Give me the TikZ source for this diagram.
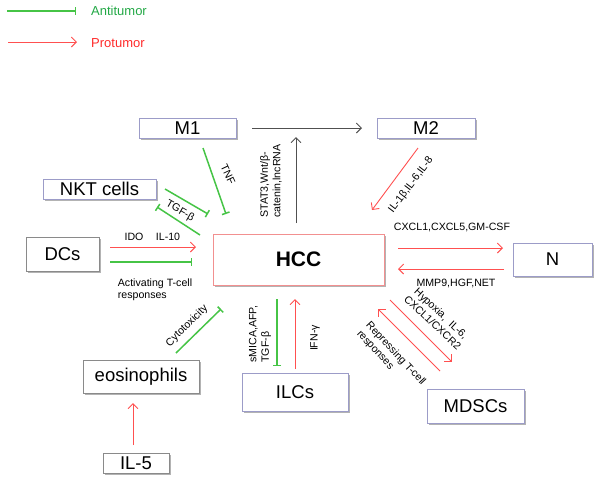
\documentclass[tikz,border=0pt]{standalone}
\usepackage{fontspec}
\setmainfont{Liberation Sans}
\usetikzlibrary{arrows.meta,shadows}
\definecolor{gline}{RGB}{70,196,70}
\definecolor{rline}{HTML}{FF5050}
\definecolor{antig}{HTML}{22A845}
\definecolor{protr}{HTML}{FF2A2A}
\definecolor{boxgray}{HTML}{8A8A8A}
\definecolor{boxlav}{HTML}{9C9CC8}
\definecolor{hccb}{HTML}{F29090}
\definecolor{darkarr}{HTML}{505050}
\begin{document}
\begin{tikzpicture}[x=1pt,y=-1pt,
  shd/.style={drop shadow={shadow xshift=2pt,shadow yshift=-2pt,fill=black!50,opacity=0.6}},
  gbox/.style={draw=boxgray,fill=white,line width=0.8pt,inner sep=0pt,shd,font=\fontsize{18.5}{20}\selectfont},
  lbox/.style={gbox,draw=boxlav},
  gl/.style={draw=gline,line width=1.5pt},
  rl/.style={draw=rline,line width=0.9pt},
  dl/.style={draw=darkarr,line width=0.9pt},
  pro/.style={-{Straight Barb[length=5pt,width=10pt]}},
  anti/.style={-{Bar[width=8pt,line width=1.5pt,color=gline]}},
  antis/.style={{Bar[width=8pt,line width=1.5pt,color=gline]}-},
  lab/.style={font=\fontsize{10.6}{12.5}\selectfont,inner sep=0pt},
  leg/.style={font=\fontsize{13}{15}\selectfont,inner sep=0pt,anchor=west}
]
\useasboundingbox (0,0) rectangle (602,483);

% legend
\coordinate (la1) at (7,11); \coordinate (la2) at (76,11);
\draw[gl,anti] (la1) -- (la2);
\node[leg,text=antig] (antitxt) at (91,11) {Antitumor};
\coordinate (lp1) at (8,42); \coordinate (lp2) at (77,42);
\draw[rl,pro] (lp1) -- (lp2);
\node[leg,text=protr] (protxt) at (91,43) {Protumor};

% boxes
\node[lbox,minimum width=97pt,minimum height=20pt] (M1) at (187.5,128) {M1};
\node[lbox,minimum width=98pt,minimum height=20pt] (M2) at (426,128) {M2};
\node[lbox,minimum width=113pt,minimum height=20pt] (NKT) at (99.5,189) {NKT cells};
\node[gbox,minimum width=73pt,minimum height=34pt] (DC) at (62.5,254) {DCs};
\node[draw=hccb,fill=white,line width=0.9pt,inner sep=0pt,shd,minimum width=171pt,minimum height=51pt,font=\bfseries\fontsize{21}{22}\selectfont] (HCC) at (298.5,259.5) {HCC};
\node[lbox,minimum width=79pt,minimum height=33pt] (N) at (552.5,259.5) {N};
\node[lbox,minimum width=97pt,minimum height=34pt] (MDSC) at (475.5,406) {MDSCs};
\node[lbox,minimum width=106pt,minimum height=38pt] (ILC) at (295,392) {ILCs};
\node[gbox,minimum width=116pt,minimum height=33pt] (EOS) at (141,376.5) {eosinophils};
\node[gbox,minimum width=66pt,minimum height=20pt] (IL5) at (136,463) {IL-5};

% M1 -> M2
\coordinate (mm1) at (252,128); \coordinate (mm2) at (362,128);
\draw[dl,pro] (mm1) -- (mm2);
% HCC -> up
\coordinate (st1) at (296,223); \coordinate (st2) at (296,137);
\draw[dl,pro] (st1) -- (st2);
\node[lab,rotate=90,align=left] (stl) at (271,181) {STAT3,Wnt/β-\\catenin,lncRNA};

% TNF
\coordinate (tn1) at (203,148); \coordinate (tn2) at (226,214);
\draw[gl,anti] (tn1) -- (tn2);
\node[lab,rotate=-65] (tnfl) at (228,174) {TNF};

% TGF-beta
\coordinate (tg1) at (165,189); \coordinate (tg2) at (208,214);
\draw[gl,anti] (tg1) -- (tg2);
\coordinate (tg3) at (157,207); \coordinate (tg4) at (200,235);
\draw[gl,antis] (tg3) -- (tg4);
\node[lab,rotate=-30] (tgfl) at (180,211) {TGF-β};

% DCs
\coordinate (dc1) at (110,247); \coordinate (dc2) at (196,247);
\draw[rl,pro] (dc1) -- (dc2);
\node[lab] (idol) at (134,237) {IDO};
\node[lab] (il10l) at (168,237) {IL-10};
\coordinate (dc3) at (110,262); \coordinate (dc4) at (192,262);
\draw[gl,anti] (dc3) -- (dc4);
\node[lab,align=left] (actl) at (155,290) {Activating T-cell\\responses};

% M2 -> HCC
\coordinate (m21) at (418,148); \coordinate (m22) at (372,210);
\draw[rl,pro] (m21) -- (m22);
\node[lab,rotate=53] (ill) at (411,185) {IL-1β,IL-6,IL-8};

% N
\coordinate (n1) at (398,248); \coordinate (n2) at (503,248);
\draw[rl,pro] (n1) -- (n2);
\node[lab] (cxl) at (452,227) {CXCL1,CXCL5,GM-CSF};
\coordinate (n3) at (504,269); \coordinate (n4) at (398,269);
\draw[rl,pro] (n3) -- (n4);
\node[lab] (mml) at (456,283) {MMP9,HGF,NET};

% MDSCs
\coordinate (md1) at (390,300); \coordinate (md2) at (452,362);
\draw[rl,pro] (md1) -- (md2);
\node[lab,rotate=-43,align=center] (hyl) at (437,318) {Hypoxia,\ \ IL-6,\\CXCL1/CXCR2};
\coordinate (md3) at (440,371); \coordinate (md4) at (378,309);
\draw[rl,pro] (md3) -- (md4);
\node[lab,rotate=-47,align=left] (rpl) at (391,358) {Repressing T-cell\\responses};

% ILCs
\coordinate (il1) at (277,299); \coordinate (il2) at (277,366);
\draw[gl,anti] (il1) -- (il2);
\node[lab,rotate=90,align=left] (sml) at (260,334) {sMICA,AFP,\\TGF-β};
\coordinate (il3) at (295,369); \coordinate (il4) at (295,299);
\draw[rl,pro] (il3) -- (il4);
\node[lab,rotate=90] (ifl) at (315,338) {IFN-γ};

% eosinophils
\coordinate (cy1) at (176,353); \coordinate (cy2) at (221,309);
\draw[gl,anti] (cy1) -- (cy2);
\node[lab,rotate=45] (cyl) at (187,326) {Cytotoxicity};
\coordinate (e1) at (133,445); \coordinate (e2) at (133,403);
\draw[rl,pro] (e1) -- (e2);
\end{tikzpicture}
\end{document}
